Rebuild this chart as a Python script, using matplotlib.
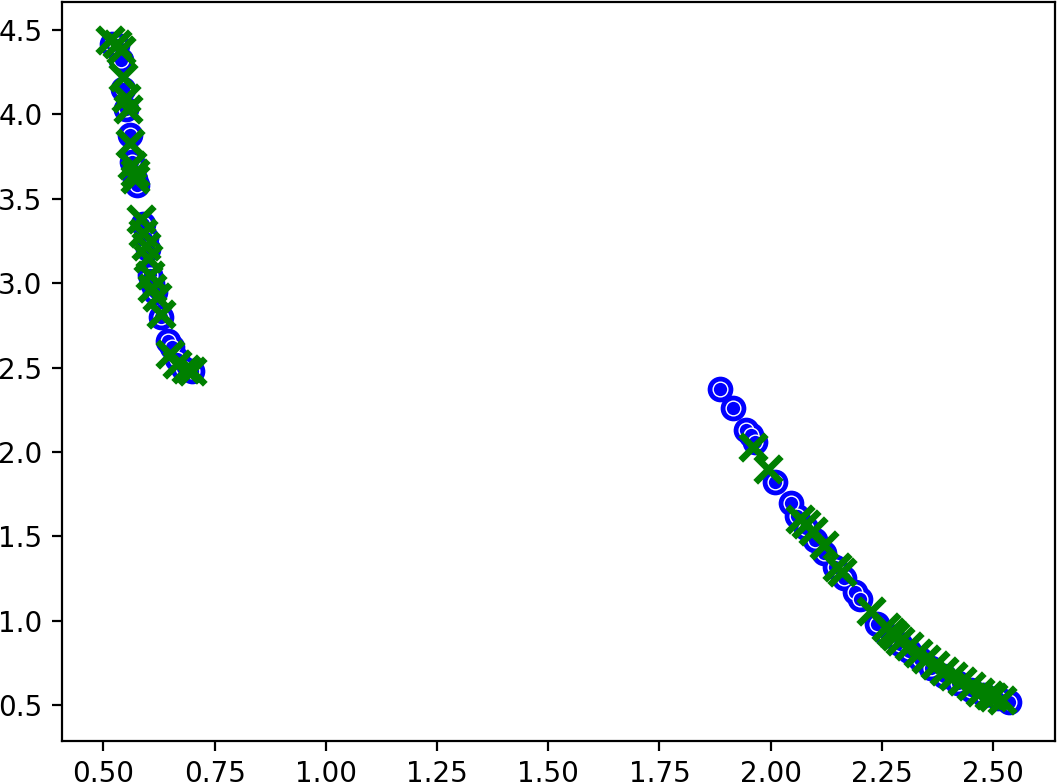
import numpy as np
import matplotlib
matplotlib.use("Agg")
import matplotlib.pyplot as plt

# blue circles
blue_x = [0.52, 0.53, 0.54, 0.545, 0.55, 0.56, 0.565, 0.57, 0.575,
          0.59, 0.595, 0.60, 0.605, 0.61, 0.615, 0.63, 0.645, 0.655, 0.665,
          0.68, 0.70,
          1.886, 1.915, 1.945, 1.955, 1.965, 2.01, 2.045, 2.06, 2.08, 2.10,
          2.12, 2.145, 2.165, 2.19, 2.20, 2.24, 2.26, 2.29, 2.31, 2.335,
          2.36, 2.39, 2.42, 2.45, 2.48, 2.51, 2.535]
blue_y = [4.42, 4.41, 4.32, 4.15, 4.03, 3.88, 3.72, 3.62, 3.58,
          3.35, 3.27, 3.20, 3.05, 3.00, 2.95, 2.80, 2.66, 2.62, 2.55,
          2.50, 2.48,
          2.37, 2.26, 2.13, 2.10, 2.06, 1.82, 1.70, 1.62, 1.55, 1.48,
          1.40, 1.32, 1.25, 1.17, 1.13, 0.98, 0.92, 0.86, 0.82, 0.77,
          0.72, 0.67, 0.63, 0.59, 0.56, 0.54, 0.52]

# green crosses
green_x = [0.515, 0.53, 0.54, 0.545, 0.55, 0.555, 0.56, 0.565, 0.57, 0.572,
           0.585, 0.59, 0.595, 0.60, 0.605, 0.61, 0.62, 0.63, 0.65, 0.665,
           0.685, 0.70,
           1.96, 1.995, 2.065, 2.08, 2.095, 2.12, 2.15, 2.16, 2.225, 2.26,
           2.27, 2.28, 2.29, 2.31, 2.33, 2.35, 2.37, 2.39, 2.41, 2.43,
           2.45, 2.47, 2.49, 2.50, 2.52]
green_y = [4.44, 4.42, 4.38, 4.22, 4.10, 4.03, 3.83, 3.70, 3.65, 3.62,
           3.38, 3.30, 3.22, 3.15, 3.05, 2.97, 2.92, 2.82, 2.58, 2.52,
           2.49, 2.48,
           2.03, 1.90, 1.60, 1.57, 1.53, 1.45, 1.32, 1.29, 1.06, 0.96,
           0.93, 0.91, 0.88, 0.85, 0.81, 0.77, 0.74, 0.70, 0.67, 0.64,
           0.61, 0.58, 0.56, 0.55, 0.53]

fig = plt.figure(figsize=(1058/200, 783/200), dpi=200)
ax = fig.add_axes([62/1058, (783-741)/783, (1055-62)/1058, (741-2)/783])

ax.scatter(blue_x, blue_y, c='b', s=68, linewidths=1, edgecolors='b')
ax.scatter(blue_x, blue_y, c='b', s=28, linewidths=0.5, edgecolors='w')
ax.scatter(green_x, green_y, c='g', marker='x', s=85, linewidths=2.4)
ax.set_xlim(0.407, 2.639)
ax.set_ylim(0.287, 4.666)

fig.savefig("out.png", dpi=200)
